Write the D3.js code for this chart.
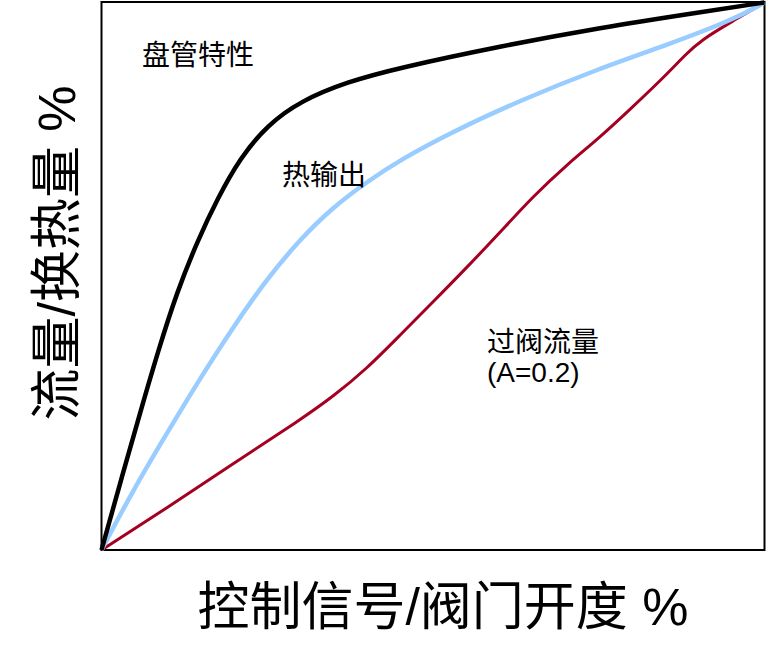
<!DOCTYPE html>
<html>
<head>
<meta charset="utf-8">
<script src="https://cdn.jsdelivr.net/npm/d3@7"></script>
<style>
  html, body { margin: 0; padding: 0; background: #fff; }
  svg { display: block; }
  text { font-family: "Liberation Sans", "Noto Sans CJK SC", sans-serif; }
</style>
</head>
<body>
<svg id="chart" width="768" height="667"></svg>
<script>
// Data: x = control signal / valve opening (%), y = flow / heat (%)
const coilX   = [0, 2.9, 5.9, 8.5, 11.4, 14.5, 17.5, 20.9, 25.0, 30.0, 37.0, 45.0, 60.1, 75.2, 90.2, 100];
const coilY   = [0, 12.6, 25.4, 36.2, 47.2, 56.5, 64.2, 71.6, 77.6, 82.0, 85.5, 88.1, 92.0, 95.4, 98.2, 100];

const heatX   = [0, 4.8, 9.9, 14.9, 19.9, 25.0, 30.0, 34.9, 40.1, 45.0, 52.6, 63.1, 75.2, 85.2, 95.2, 100];
const heatY   = [0, 11.0, 21.4, 31.4, 40.8, 49.6, 56.8, 62.6, 67.3, 71.2, 76.2, 82.1, 88.0, 92.2, 96.8, 100];

const valveX  = [0, 9.9, 19.9, 30.0, 34.9, 40.1, 45.0, 50.0, 55.1, 60.1, 65.1, 70.2, 75.2, 80.0, 85.2, 88.0, 90.5, 95.2, 100];
const valveY  = [0, 7.7, 15.8, 23.8, 28.0, 33.2, 39.2, 45.3, 51.6, 58.0, 64.6, 70.4, 75.4, 80.8, 86.8, 90.4, 93.2, 96.6, 100];

const seriesNames = ["盘管特性", "热输出", "过阀流量"];
const xTitle = "控制信号/阀门开度 %";
const yTitle = "流量/换热量 %";
const valveNote = "(A=0.2)";

const svg = d3.select("#chart");
const pLeft = 101.5, pRight = 764.5, pTop = 2.5, pBottom = 550;

const x = d3.scaleLinear().domain([0, 100]).range([pLeft, pRight]);
const y = d3.scaleLinear().domain([0, 100]).range([pBottom, pTop]);

const line = d3.line()
  .x(d => x(d[0]))
  .y(d => y(d[1]))
  .curve(d3.curveBasis);

const zip = (a, b) => a.map((v, i) => [v, b[i]]);

// frame
svg.append("rect")
  .attr("x", pLeft).attr("y", pTop - 0.5)
  .attr("width", pRight - pLeft).attr("height", pBottom - pTop + 0.5)
  .attr("fill", "none").attr("stroke", "#000").attr("stroke-width", 2);

svg.append("path").datum(zip(valveX, valveY))
  .attr("d", line).attr("fill", "none")
  .attr("stroke", "#A50021").attr("stroke-width", 3);

svg.append("path").datum(zip(heatX, heatY))
  .attr("d", line).attr("fill", "none")
  .attr("stroke", "#99CCFF").attr("stroke-width", 4.5);

svg.append("path").datum(zip(coilX, coilY))
  .attr("d", line).attr("fill", "none")
  .attr("stroke", "#000").attr("stroke-width", 4.5);

// series labels
svg.append("text").attr("x", 142).attr("y", 65)
  .attr("font-size", 28).attr("fill", "#000").text(seriesNames[0]);
svg.append("text").attr("x", 282).attr("y", 185)
  .attr("font-size", 28).attr("fill", "#000").text(seriesNames[1]);
svg.append("text").attr("x", 487).attr("y", 352)
  .attr("font-size", 28).attr("fill", "#000").text(seriesNames[2]);
svg.append("text").attr("x", 487).attr("y", 382)
  .attr("font-size", 28).attr("fill", "#000").text(valveNote);

// axis titles
svg.append("text").attr("x", 443).attr("y", 625)
  .attr("text-anchor", "middle").attr("font-size", 52).attr("fill", "#000")
  .text(xTitle);
svg.append("text")
  .attr("transform", "translate(75,253) rotate(-90)")
  .attr("text-anchor", "middle").attr("font-size", 52).attr("fill", "#000")
  .text(yTitle);
</script>
</body>
</html>
